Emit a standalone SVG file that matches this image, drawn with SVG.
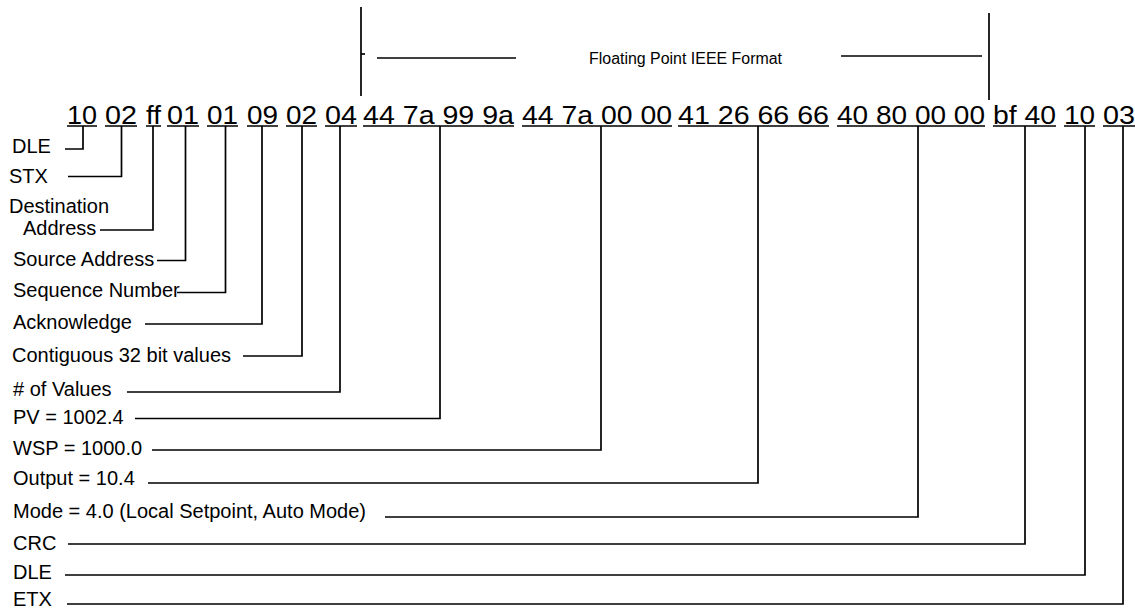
<svg xmlns="http://www.w3.org/2000/svg" width="1135" height="609" viewBox="0 0 1135 609">
<style>
.b{font-family:"Liberation Sans",Arial,sans-serif;font-size:25px;fill:#000}
.l{font-family:"Liberation Sans",Arial,sans-serif;font-size:20px;fill:#000}
.t{font-family:"Liberation Sans",Arial,sans-serif;font-size:16px;fill:#000}
.c{stroke:#000;stroke-width:1.7;fill:none}
.u{stroke:#000;stroke-width:1.5;fill:none}
</style>
<rect width="1135" height="609" fill="#fff"/>
<g id="ieee-bracket">
<line class="c" x1="361" y1="7" x2="361" y2="96"/>
<line class="c" x1="361" y1="54" x2="365" y2="54"/>
<line class="c" x1="377" y1="58" x2="516" y2="58"/>
<text class="t" x="589" y="63.5" textLength="193" lengthAdjust="spacingAndGlyphs">Floating Point IEEE Format</text>
<line class="c" x1="841" y1="56" x2="982" y2="56"/>
<line class="c" x1="989" y1="13" x2="989" y2="100"/>
</g>
<g id="bytes">
<text class="b" x="67" y="123.5" textLength="30" lengthAdjust="spacingAndGlyphs">10</text>
<text class="b" x="105" y="123.5" textLength="32" lengthAdjust="spacingAndGlyphs">02</text>
<text class="b" x="146" y="123.5" textLength="15" lengthAdjust="spacingAndGlyphs">ff</text>
<text class="b" x="167" y="123.5" textLength="32" lengthAdjust="spacingAndGlyphs">01</text>
<text class="b" x="207" y="123.5" textLength="31" lengthAdjust="spacingAndGlyphs">01</text>
<text class="b" x="247" y="123.5" textLength="31" lengthAdjust="spacingAndGlyphs">09</text>
<text class="b" x="286" y="123.5" textLength="31" lengthAdjust="spacingAndGlyphs">02</text>
<text class="b" x="325" y="123.5" textLength="32" lengthAdjust="spacingAndGlyphs">04</text>
<text class="b" x="363" y="123.5" textLength="151" lengthAdjust="spacingAndGlyphs">44 7a 99 9a</text>
<text class="b" x="522" y="123.5" textLength="150" lengthAdjust="spacingAndGlyphs">44 7a 00 00</text>
<text class="b" x="678" y="123.5" textLength="151" lengthAdjust="spacingAndGlyphs">41 26 66 66</text>
<text class="b" x="837" y="123.5" textLength="148" lengthAdjust="spacingAndGlyphs">40 80 00 00</text>
<text class="b" x="993" y="123.5" textLength="63" lengthAdjust="spacingAndGlyphs">bf 40</text>
<text class="b" x="1064" y="123.5" textLength="31" lengthAdjust="spacingAndGlyphs">10</text>
<text class="b" x="1103" y="123.5" textLength="32" lengthAdjust="spacingAndGlyphs">03</text>
<path class="u" d="M67 126H97M105 126H137M146 126H161M167 126H199M207 126H238M247 126H278M286 126H317M325 126H357M363 126H514M522 126H672M678 126H829M837 126H985M993 126H1056M1064 126H1095M1103 126H1135"/>
</g>
<g id="label-dle"><text class="l" x="12" y="153">DLE</text></g>
<g id="label-stx"><text class="l" x="9" y="183">STX</text></g>
<g id="label-dest"><text class="l" x="9" y="213">Destination</text><text class="l" x="23" y="235">Address</text></g>
<g id="label-src"><text class="l" x="13" y="266">Source Address</text></g>
<g id="label-seq"><text class="l" x="13" y="297">Sequence Number</text></g>
<g id="label-ack"><text class="l" x="13" y="329">Acknowledge</text></g>
<g id="label-contig"><text class="l" x="12" y="362">Contiguous 32 bit values</text></g>
<g id="label-count"><text class="l" x="13" y="396"># of Values</text></g>
<g id="label-pv"><text class="l" x="13" y="424">PV = 1002.4</text></g>
<g id="label-wsp"><text class="l" x="13" y="455">WSP = 1000.0</text></g>
<g id="label-out"><text class="l" x="13" y="485">Output = 10.4</text></g>
<g id="label-mode"><text class="l" x="13" y="518">Mode = 4.0 (Local Setpoint, Auto Mode)</text></g>
<g id="label-crc"><text class="l" x="13" y="550">CRC</text></g>
<g id="label-dle2"><text class="l" x="13" y="579">DLE</text></g>
<g id="label-etx"><text class="l" x="13" y="606">ETX</text></g>
<g id="connectors">
<polyline class="c" points="65,149 83,149 83,126"/>
<polyline class="c" points="68,176.5 121.5,176.5 121.5,126"/>
<polyline class="c" points="100,230 153,230 153,126"/>
<polyline class="c" points="157,260.5 185.5,260.5 185.5,126"/>
<polyline class="c" points="177,292.5 225.5,292.5 225.5,126"/>
<polyline class="c" points="145,324 262,324 262,126"/>
<polyline class="c" points="243,356 302,356 302,126"/>
<polyline class="c" points="127,392 340,392 340,126"/>
<polyline class="c" points="135,418.5 440,418.5 440,126"/>
<polyline class="c" points="152,450 601,450 601,126"/>
<polyline class="c" points="148,483 758,483 758,126"/>
<polyline class="c" points="385,517 918,517 918,126"/>
<polyline class="c" points="68,544 1025,544 1025,126"/>
<polyline class="c" points="65,575 1085,575 1085,126"/>
<polyline class="c" points="67,604 1123,604 1123,126"/>
</g>
</svg>
